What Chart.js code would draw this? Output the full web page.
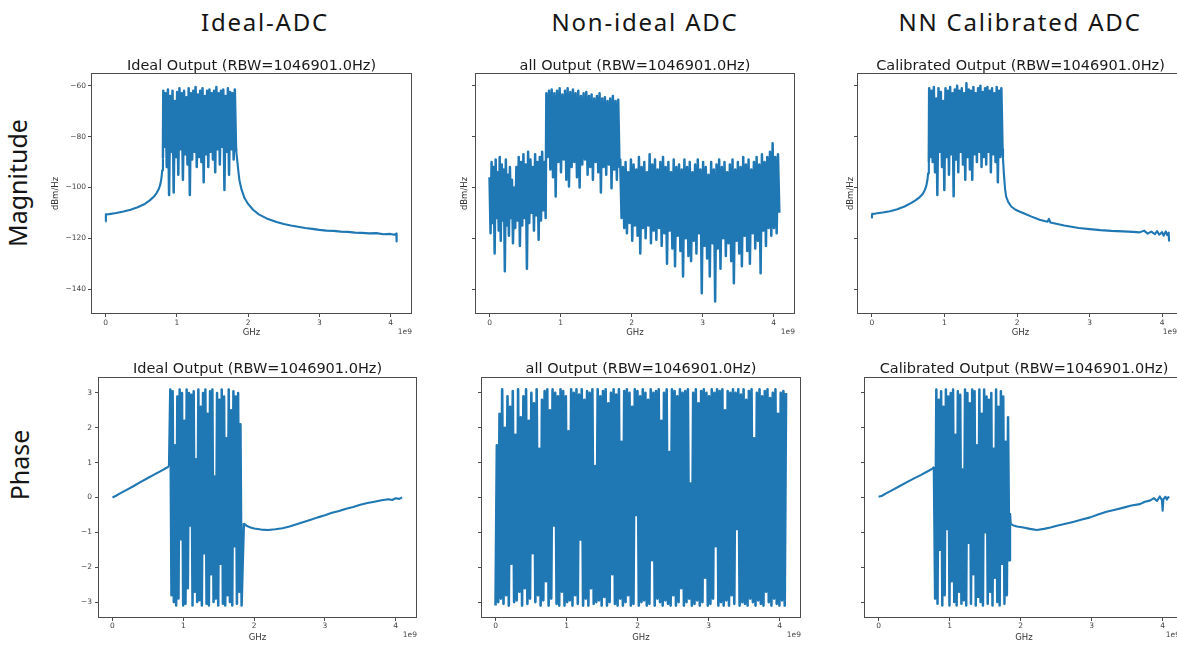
<!DOCTYPE html>
<html>
<head>
<meta charset="utf-8">
<script src="https://cdn.jsdelivr.net/npm/chart.js@4.4.1/dist/chart.umd.min.js"></script>
<style>
  html, body { margin: 0; padding: 0; background: #fff; }
  #stage { position: relative; width: 1177px; height: 645px; overflow: hidden; background: #fff; }
  #stage canvas { position: absolute; }
  .col-head { position: absolute; transform: translate(-50%, -50%); font-family: "Noto Sans", sans-serif; font-size: 24px; letter-spacing: 1.8px; color: #151515; white-space: nowrap; line-height: 1; }
  .row-head { position: absolute; transform: translate(-50%, -50%) rotate(-90deg); font-family: "Noto Sans", sans-serif; font-size: 25px; color: #151515; white-space: nowrap; line-height: 1; }
  .ptitle { position: absolute; transform: translate(-50%, -50%); font-family: "DejaVu Sans", sans-serif; font-size: 14.5px; color: #1a1a1a; white-space: nowrap; line-height: 1; }
  .offset { position: absolute; transform: translate(-100%, -50%); font-family: "DejaVu Sans", sans-serif; font-size: 7.5px; color: #444; white-space: nowrap; line-height: 1; }
</style>
</head>
<body>
<div id="stage"></div>
<script>
// ---- text ----
const columnTitles = ['Ideal-ADC', 'Non-ideal ADC', 'NN Calibrated ADC'];
const rowTitles = ['Magnitude', 'Phase'];
const panelTitles = [
  'Ideal Output (RBW=1046901.0Hz)',
  'all Output (RBW=1046901.0Hz)',
  'Calibrated Output (RBW=1046901.0Hz)',
];
const magLabel = 'dBm/Hz';
const freqLabel = 'GHz';
const offsetLabel = '1e9';

// ---- ticks and ranges (x in GHz, shown with 1e9 offset) ----
const freqTicks = [0, 1, 2, 3, 4];
const magTicks = [-140, -120, -100, -80, -60];
const phaseTicks = [-3, -2, -1, 0, 1, 2, 3];
const freqRange = [-0.2048, 4.3008];
const magRange = [-149.8, -55.0];
const phaseRange = [-3.456, 3.456];

// ---- Ideal ADC, magnitude ----
const idealMagLowX = [0, 0.004, 0.05, 0.15, 0.25, 0.35, 0.45, 0.55, 0.62, 0.68, 0.72, 0.75, 0.77, 0.785, 0.795, 0.805];
const idealMagLowY = [-113.4, -110.6, -110.5, -110.1, -109.5, -108.8, -107.8, -106.5, -105.1, -103.6, -102.0, -100.4, -98.6, -96.2, -93.3, -88.5];
const idealMagBandSpan = [0.81, 1.83];
const idealMagBand = [
  -62, -84, -63, -92, -61.5, -103, -64, -86, -62, -102, -66, -88, -62.5, -95, -61, -85,
  -63, -97, -62, -87, -64.5, -91, -61, -103, -63, -89, -62, -86, -60.5, -92, -63.5, -88,
  -62, -90, -61, -98, -64, -87, -62, -92, -61.5, -86, -63, -89, -62, -94, -60.5, -85,
  -63, -91, -62, -84, -61.5, -101, -64, -86, -61, -95, -62.5, -85, -63, -89, -61.5, -84,
];
const idealMagTailX = [1.835, 1.85, 1.865, 1.88, 1.91, 1.95, 2.0, 2.07, 2.15, 2.26, 2.4, 2.5, 2.6, 2.7, 2.8, 2.9, 3.0, 3.1, 3.2, 3.3, 3.4, 3.5, 3.6, 3.7, 3.8, 3.9, 4.0, 4.05, 4.08, 4.085];
const idealMagTailY = [-86, -90, -94, -97.5, -101, -104.2, -106.5, -108.8, -110.6, -112.2, -113.6, -114.4, -115.0, -115.5, -116.0, -116.3, -116.7, -117.0, -117.1, -117.4, -117.5, -117.8, -117.9, -118.1, -118.0, -118.4, -118.3, -118.6, -118.2, -121.3];

// ---- Non-ideal ADC, magnitude (four stretches of the spectrum) ----
const nonIdealMagSpanA = [0, 0.33];
const nonIdealMagA = [-96, -118, -90, -114, -92, -126, -89, -112, -94, -117, -88, -121, -91, -113, -93, -133, -89, -115, -95, -119, -92, -112, -97, -122];
const nonIdealMagSpanB = [0.345, 0.79];
const nonIdealMagB = [-100, -116, -92, -113, -88, -123, -90, -115, -87, -112, -91, -132, -86, -114, -89, -110, -92, -117, -87, -111, -90, -120.6, -88, -113, -86, -109, -90, -112];
const nonIdealMagSpanC = [0.80, 1.83];
const nonIdealMagC = [
  -63, -88, -62, -93, -61.5, -96, -63, -103.6, -62, -90, -61, -94, -63.5, -89, -62, -97,
  -61, -99.6, -62.5, -92, -61.5, -90, -63, -96, -62, -100, -64, -91, -63, -89, -62.5, -95,
  -64, -92, -63.5, -97, -65, -90, -64, -94, -63, -102, -65, -92, -64.5, -95, -66, -91,
  -65, -100.3, -64, -93, -66, -97, -65.5, -92,
];
const nonIdealMagSpanD = [1.84, 4.08];
const nonIdealMagD = [
  -89, -112, -92, -116, -90, -118, -94, -114, -89, -121, -91, -115, -93, -119, -88, -126,
  -92, -116, -90, -120, -94, -115, -87, -122, -91, -117, -89, -120.6, -93, -116, -90, -123,
  -88, -118, -92, -130, -90, -117, -94, -124, -89, -131, -92, -119, -91, -125, -93, -135,
  -89, -120, -92, -127, -90, -129, -94, -121, -91, -126, -89, -118, -93, -141.6, -90, -123,
  -92, -128, -95, -135, -90, -122, -93, -144.9, -91, -124, -89, -132, -92, -120, -90, -127,
  -94, -122, -91, -129, -89, -137.7, -93, -121, -90, -126, -92, -131, -88, -119, -91, -125,
  -89, -130, -93, -118, -90, -124, -88, -121, -91, -133.8, -87, -117, -90, -123, -88, -116,
  -86, -119, -82.6, -116, -88, -118, -87, -110,
];

// ---- NN calibrated ADC, magnitude ----
const calMagLowX = [0, 0.004, 0.05, 0.15, 0.25, 0.35, 0.45, 0.55, 0.61, 0.66, 0.70, 0.73, 0.75, 0.765, 0.775, 0.785];
const calMagLowY = [-112.2, -110.4, -110.3, -109.9, -109.4, -108.6, -107.5, -106.0, -104.9, -103.8, -102.6, -101.0, -99.4, -97.2, -94.5, -90];
const calMagBandSpan = [0.79, 1.80];
const calMagBand = [
  -61, -88, -62, -90, -60.5, -94, -65, -103, -61, -86, -62.5, -92, -66, -101, -61, -88,
  -62, -95, -60.5, -87, -63, -103.5, -61.5, -89, -60, -94, -62, -86, -61, -91, -63, -97,
  -59, -88, -61.5, -93, -62, -97, -60.5, -87, -63, -90, -61, -86, -60, -92, -62.5, -88,
  -61, -91, -60.5, -86, -62, -94, -61, -87, -63, -90, -60.5, -98, -62, -88, -61, -85,
];
const calMagTailX = [1.805, 1.82, 1.835, 1.85, 1.88, 1.92, 1.98, 2.04, 2.1, 2.2, 2.31, 2.42, 2.44, 2.46, 2.54, 2.65, 2.75, 2.85, 3.0, 3.15, 3.3, 3.46, 3.6, 3.69, 3.75, 3.8, 3.85, 3.9, 3.93, 3.96, 4.0, 4.02, 4.05, 4.07, 4.09, 4.095];
const calMagTailY = [-88, -95, -100.5, -103.6, -105.8, -107.5, -108.8, -109.6, -110.3, -111.5, -112.7, -113.5, -112.4, -113.8, -114.3, -115.0, -115.5, -116.0, -116.4, -116.8, -117.1, -117.3, -117.5, -117.7, -117.0, -118.2, -117.4, -118.4, -117.2, -118.6, -117.6, -119.0, -117.3, -118.8, -117.8, -121.3];

// ---- Ideal ADC, phase ----
const idealPhLowX = [0, 0.05, 0.1, 0.2, 0.3, 0.4, 0.5, 0.6, 0.7, 0.77, 0.8];
const idealPhLowY = [0.0, 0.05, 0.11, 0.22, 0.33, 0.45, 0.56, 0.67, 0.78, 0.86, 0.9];
const idealPhBandSpan = [0.80, 1.84];
const idealPhBand = [
  0.9, 3.1, -2.8, 3.05, -3.0, 1.5, -3.1, 2.9, -2.9, 3.1, -1.2, 3.0, -3.1, 2.2, -3.05, 3.1,
  -2.6, 3.0, -0.8, 2.95, -3.1, 3.05, -2.7, 1.1, -3.0, 3.1, -2.95, 2.6, -3.1, 3.0, -1.6, 3.1,
  -3.05, 2.4, -3.1, 3.05, -2.2, 3.1, -3.0, 0.6, -2.9, 3.0, -3.1, 2.8, -1.9, 3.1, -3.05, 2.9,
  -3.1, 1.7, -2.8, 3.1, -3.0, 2.5, -3.1, 3.05, -1.4, 2.9, -3.05, 3.0, -2.7, 2.1, -3.1, -1.8,
];
const idealPhTailX = [1.855, 1.87, 1.9, 1.95, 2.0, 2.1, 2.2, 2.3, 2.4, 2.5, 2.6, 2.7, 2.8, 2.9, 3.0, 3.1, 3.2, 3.3, 3.4, 3.5, 3.6, 3.7, 3.8, 3.9, 3.95, 4.0, 4.05, 4.09];
const idealPhTailY = [-0.74, -0.77, -0.82, -0.86, -0.89, -0.92, -0.93, -0.91, -0.88, -0.83, -0.77, -0.7, -0.64, -0.57, -0.51, -0.44, -0.39, -0.32, -0.27, -0.21, -0.16, -0.12, -0.08, -0.05, -0.07, -0.02, -0.04, 0.0];

// ---- Non-ideal ADC, phase ----
const nonIdealPhSpan = [0, 4.09];
const nonIdealPh = [
  -3.1, 1.5, -3.0, 2.4, -2.9, 3.1, -3.05, 2.0, -2.8, 2.9,
  -3.1, 2.6, -1.9, 3.05, -3.0, 1.8, -2.95, 3.1, -2.7, 2.3,
  -3.1, 2.9, -2.6, 3.1, -3.05, 2.2, -2.9, 3.0, -1.6, 2.7,
  -3.0, 3.1, -2.8, 1.4, -3.1, 2.8, -2.95, 3.05, -2.4, 3.1,
  -3.1, 2.5, -2.9, 3.1, -0.8, 3.0, -3.05, 2.9, -3.1, 3.1,
  -2.7, 3.05, -3.1, 2.9, -3.0, 1.9, -2.95, 3.1, -3.1, 3.0,
  -2.8, 3.1, -3.05, 2.95, -1.2, 3.1, -3.1, 2.8, -2.9, 3.05,
  -3.1, 3.0, -2.6, 3.1, -3.05, 0.9, -3.0, 3.1, -2.95, 2.9,
  -3.1, 3.05, -2.85, 3.1, -3.1, 2.7, -3.0, 3.0, -2.2, 3.1,
  -3.05, 2.95, -3.1, 3.1, -2.9, 1.6, -3.1, 3.05, -3.0, 3.1,
  -2.8, 3.0, -3.1, 2.6, -3.05, 3.1, -0.5, 3.05, -3.1, 2.9,
  -3.0, 3.1, -2.95, 3.0, -3.1, 2.8, -3.05, 3.1, -1.8, 3.0,
  -3.1, 3.05, -2.9, 3.1, -3.0, 2.2, -3.1, 3.0, -2.95, 3.1,
  -3.05, 1.3, -3.1, 3.1, -2.8, 3.05, -3.1, 2.9, -3.0, 3.1,
  -2.6, 3.0, -3.1, 3.05, -3.0, 3.1, -2.9, 0.4, -3.1, 3.0,
  -3.05, 3.1, -2.95, 2.7, -3.1, 3.05, -3.0, 3.1, -2.3, 3.0,
  -3.1, 2.9, -3.05, 3.1, -2.9, 3.0, -1.4, 3.1, -3.1, 3.05,
  -3.0, 3.1, -3.1, 2.5, -2.95, 3.05, -3.1, 3.0, -2.8, 3.1,
  -3.05, 3.0, -0.9, 3.1, -3.1, 2.95, -3.0, 3.1, -3.05, 2.8,
  -3.1, 3.05, -2.9, 3.1, -3.0, 1.7, -3.1, 3.0, -2.95, 3.1,
  -3.05, 2.9, -3.1, 3.05, -2.7, 3.1, -3.0, 2.85, -3.1, 3.0,
  -2.9, 3.1, -3.05, 2.4, -3.1, 3.0, -2.95, 3.05, -3.1, 3.0,
];

// ---- NN calibrated ADC, phase ----
const calPhLowX = [0, 0.05, 0.1, 0.2, 0.3, 0.4, 0.5, 0.6, 0.7, 0.76, 0.78];
const calPhLowY = [0.02, 0.05, 0.11, 0.22, 0.33, 0.44, 0.55, 0.65, 0.76, 0.83, 0.88];
const calPhBandSpan = [0.78, 1.84];
const calPhBand = [
  0.88, -2.9, 3.1, -3.05, 2.8, -1.5, 3.05, -3.1, 2.6, -2.8, 3.1, -0.9, 2.9, -3.1, 3.0, -2.4,
  3.1, -3.0, 1.8, -3.1, 3.05, -2.7, 2.95, -3.05, 0.8, -2.95, 3.1, -3.1, 3.0, -1.3, 2.7, -3.05,
  3.1, -2.2, 3.05, -3.1, 1.5, -2.85, 3.1, -3.0, 2.4, -3.1, 3.1, -1.0, 2.9, -3.05, 2.8, -2.7,
  3.0, -3.1, 1.4, -2.3, 3.1, -3.0, 2.6, -3.1, 3.05, -1.9, 2.9, -3.05, 1.6, -2.8, 2.3, -1.8,
];
const calPhTailX = [1.85, 1.86, 1.9, 1.95, 2.04, 2.13, 2.23, 2.33, 2.42, 2.51, 2.6, 2.74, 2.85, 2.98, 3.1, 3.21, 3.33, 3.45, 3.56, 3.68, 3.75, 3.82, 3.88, 3.92, 3.96, 3.99, 4.0, 4.01, 4.04, 4.06, 4.08, 4.09];
const calPhTailY = [-0.45, -0.76, -0.8, -0.83, -0.86, -0.9, -0.93, -0.9, -0.86, -0.81, -0.77, -0.7, -0.64, -0.57, -0.48, -0.41, -0.35, -0.29, -0.23, -0.19, -0.12, -0.09, -0.02, -0.1, 0.03, -0.08, -0.38, -0.05, 0.02, -0.06, 0.01, -0.02];

// ---- helpers to turn the lists into {x, y} points ----
function pts(xs, ys) {
  return xs.map((x, i) => ({ x, y: ys[i] }));
}
// evenly spaced frequency bins across a span
function spread(span, ys) {
  const n = ys.length - 1;
  return ys.map((y, i) => ({ x: span[0] + (span[1] - span[0]) * i / n, y }));
}
// a smooth-band-smooth trace: the busy middle is drawn a little heavier
function threePart(lowX, lowY, span, band, tailX, tailY) {
  const low = pts(lowX, lowY);
  const mid = spread(span, band);
  const tail = pts(tailX, tailY);
  return [
    { data: low, width: 2.1 },
    { data: [low[low.length - 1], ...mid, tail[0]], width: 2.5 },
    { data: tail, width: 2.1 },
  ];
}

const series = [
  threePart(idealMagLowX, idealMagLowY, idealMagBandSpan, idealMagBand, idealMagTailX, idealMagTailY),
  [{ data: [...spread(nonIdealMagSpanA, nonIdealMagA), ...spread(nonIdealMagSpanB, nonIdealMagB), ...spread(nonIdealMagSpanC, nonIdealMagC), ...spread(nonIdealMagSpanD, nonIdealMagD)], width: 2.5 }],
  threePart(calMagLowX, calMagLowY, calMagBandSpan, calMagBand, calMagTailX, calMagTailY),
  threePart(idealPhLowX, idealPhLowY, idealPhBandSpan, idealPhBand, idealPhTailX, idealPhTailY),
  [{ data: spread(nonIdealPhSpan, nonIdealPh), width: 2.6 }],
  threePart(calPhLowX, calPhLowY, calPhBandSpan, calPhBand, calPhTailX, calPhTailY),
];

// ---- page layout (plot box: left, top, right, bottom) ----
const layout = [
  { box: [91, 73, 412, 314], padL: 50, padB: 28, yLabels: true, yTitle: true, yTitlePad: 9.6, yTickPad: 2, xTickPad: 2, xTitlePad: 4, offsetX: 412 },
  { box: [475, 73, 795, 314], padL: 22, padB: 28, yLabels: false, yTitle: true, yTitlePad: 6.9, yTickPad: 2, xTickPad: 2, xTitlePad: 4, offsetX: 795 },
  { box: [857, 73, 1184, 314], padL: 22, padB: 28, yLabels: false, yTitle: true, yTitlePad: 10.9, yTickPad: 2, xTickPad: 2, xTitlePad: 4, offsetX: 1177 },
  { box: [98, 377, 417, 618], padL: 30, padB: 26, yLabels: true, yTitle: false, yTitlePad: 0, yTickPad: 3, xTickPad: 1, xTitlePad: 1, offsetX: 417 },
  { box: [481, 377, 801, 618], padL: 10, padB: 26, yLabels: false, yTitle: false, yTitlePad: 0, yTickPad: 3, xTickPad: 1, xTitlePad: 1, offsetX: 801 },
  { box: [864, 377, 1184, 618], padL: 10, padB: 26, yLabels: false, yTitle: false, yTitlePad: 0, yTickPad: 3, xTickPad: 1, xTitlePad: 1, offsetX: 1180 },
];
const colCentersX = [265, 645, 1020];
const headY = 21.5;
const rowLabelPos = [[17, 182.5], [19, 465]];
const titleY = [65, 368];
const offsetY = [332, 635];

const lineColor = '#1f77b4';
const axisColor = '#4d4d4d';
const tickColor = '#444';
const tickFont = { family: 'DejaVu Sans', size: 7.5 };
const labelFont = { family: 'DejaVu Sans', size: 8.5 };

const stage = document.getElementById('stage');

function addText(cls, text, x, y) {
  const el = document.createElement('div');
  el.className = cls;
  el.textContent = text;
  el.style.left = x + 'px';
  el.style.top = y + 'px';
  stage.appendChild(el);
}

// matplotlib-style full frame round the plot box
const framePlugin = {
  id: 'frame',
  afterDatasetsDraw(chart) {
    const { ctx, chartArea: a } = chart;
    ctx.save();
    ctx.strokeStyle = axisColor;
    ctx.lineWidth = 1;
    ctx.strokeRect(Math.round(a.left) + 0.5, Math.round(a.top) + 0.5, Math.round(a.right - a.left) - 1, Math.round(a.bottom - a.top) - 1);
    ctx.restore();
  },
};

const minusSign = (v) => String(v).replace('-', '\u2212');

function makePanel(idx) {
  const p = layout[idx];
  const isMag = idx < 3;
  const padT = 12, padR = 12;
  const [l, t, r, b] = p.box;
  const w = r - l + p.padL + padR;
  const h = b - t + padT + p.padB;

  const canvas = document.createElement('canvas');
  canvas.width = w;
  canvas.height = h;
  canvas.style.width = w + 'px';
  canvas.style.height = h + 'px';
  canvas.style.left = (l - p.padL) + 'px';
  canvas.style.top = (t - padT) + 'px';
  stage.appendChild(canvas);

  const yTicks = isMag ? magTicks : phaseTicks;
  const yRange = isMag ? magRange : phaseRange;

  new Chart(canvas, {
    type: 'line',
    data: {
      datasets: series[idx].map((part) => ({
        data: part.data,
        borderColor: lineColor,
        borderWidth: part.width,
        borderJoinStyle: 'round',
        borderCapStyle: 'butt',
        pointRadius: 0,
        tension: 0,
        fill: false,
      })),
    },
    options: {
      responsive: false,
      animation: false,
      events: [],
      layout: { padding: { top: padT, right: padR, left: 0, bottom: 0 } },
      plugins: { legend: { display: false }, tooltip: { enabled: false } },
      scales: {
        x: {
          type: 'linear',
          min: freqRange[0],
          max: freqRange[1],
          afterBuildTicks: (s) => { s.ticks = freqTicks.map((v) => ({ value: v })); },
          afterFit: (s) => { s.height = p.padB; },
          border: { display: false },
          grid: { drawOnChartArea: false, drawTicks: true, tickLength: 3, color: axisColor },
          ticks: { font: tickFont, color: tickColor, padding: p.xTickPad, maxRotation: 0, autoSkip: false, callback: minusSign },
          title: { display: true, text: freqLabel, font: labelFont, color: '#333', padding: { top: 0, bottom: p.xTitlePad } },
        },
        y: {
          type: 'linear',
          min: yRange[0],
          max: yRange[1],
          afterBuildTicks: (s) => { s.ticks = yTicks.map((v) => ({ value: v })); },
          afterFit: (s) => { s.width = p.padL; },
          border: { display: false },
          grid: { drawOnChartArea: false, drawTicks: true, tickLength: 3, color: axisColor },
          ticks: { font: tickFont, color: tickColor, padding: p.yTickPad, autoSkip: false, callback: p.yLabels ? minusSign : () => '' },
          title: { display: p.yTitle, text: magLabel, font: labelFont, color: '#333', padding: { top: p.yTitlePad, bottom: 0 } },
        },
      },
    },
    plugins: [framePlugin],
  });

  const row = isMag ? 0 : 1;
  addText('ptitle', panelTitles[idx % 3], (l + r) / 2, titleY[row]);
  addText('offset', offsetLabel, p.offsetX, offsetY[row]);
}

columnTitles.forEach((txt, i) => addText('col-head', txt, colCentersX[i], headY));
rowTitles.forEach((txt, i) => addText('row-head', txt, rowLabelPos[i][0], rowLabelPos[i][1]));
for (let i = 0; i < 6; i++) makePanel(i);
</script>
</body>
</html>
